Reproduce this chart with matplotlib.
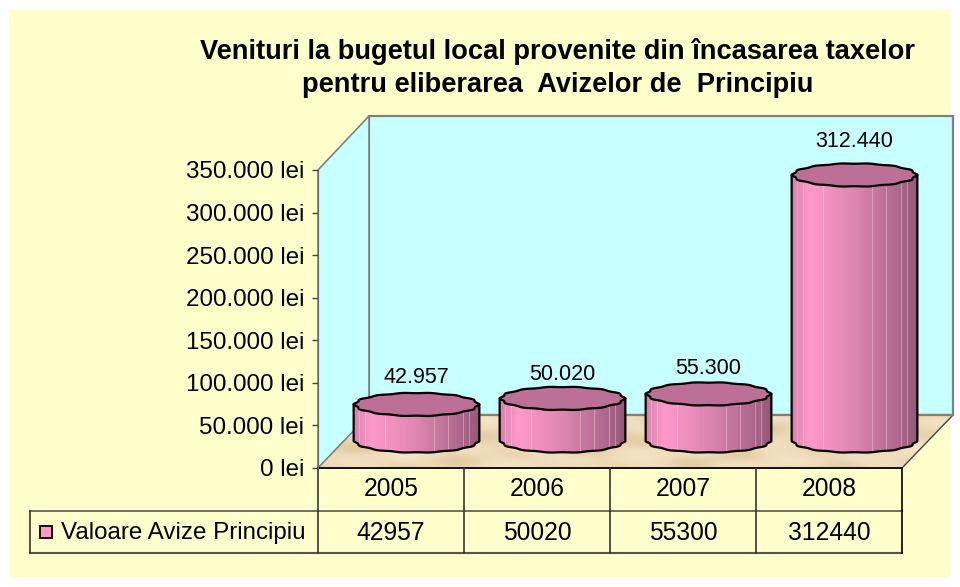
import numpy as np
import matplotlib
matplotlib.use("Agg")
import matplotlib.pyplot as plt
from matplotlib.patches import Polygon, Rectangle

plt.rcParams["font.family"] = ["Liberation Sans", "DejaVu Sans"]

# date
ani = ["2005", "2006", "2007", "2008"]
valori = [42957, 50020, 55300, 312440]
etichete = ["42.957", "50.020", "55.300", "312.440"]
serie = "Valoare Avize Principiu"
titlu = "Venituri la bugetul local provenite din încasarea taxelor\npentru eliberarea  Avizelor de  Principiu"
y_ticks = [0, 50000, 100000, 150000, 200000, 250000, 300000, 350000]
y_labels = ["0 lei", "50.000 lei", "100.000 lei", "150.000 lei", "200.000 lei",
            "250.000 lei", "300.000 lei", "350.000 lei"]

W, H = 960, 587
fig = plt.figure(figsize=(W / 100, H / 100), dpi=100, facecolor="white")

# fundal si "camera" 3D, in pixeli
bg = fig.add_axes([0, 0, 1, 1])
bg.set_xlim(0, W)
bg.set_ylim(H, 0)
bg.axis("off")
bg.add_patch(Rectangle((9, 10), 941, 567, fc="#FFFFCC", ec="none"))
bg.add_patch(Polygon([(369, 116), (953, 116), (953, 415), (369, 415)], fc="#C8FFFF", ec="#808080", lw=1.6))
bg.add_patch(Polygon([(318, 170), (369, 116), (369, 415), (318, 468)], fc="#C8FFFF", ec="#808080", lw=1.2))

# podea cu textura de nisip
podea = Polygon([(318, 468), (369, 415), (953, 415), (902, 468)], fc="none", ec="none")
bg.add_patch(podea)
xx, yy = np.meshgrid(np.linspace(0, 1, 320), np.linspace(0, 1, 30))
pete = np.sin(31 * xx + 5 * yy) + np.sin(53 * xx - 9 * yy + 1) + np.sin(17 * xx + 13 * yy + 2)
nisip = matplotlib.colors.LinearSegmentedColormap.from_list("nisip", ["#E2CBA2", "#EFDCBB", "#F4E3C6"])
im_p = bg.imshow(pete, cmap=nisip, extent=(318, 953, 468, 415), aspect="auto", zorder=1)
im_p.set_clip_path(podea)
bg.plot([902, 953], [468, 415], color="#444444", lw=1, zorder=2)
bg.plot([369, 953], [415, 415], color="#808080", lw=1.6, zorder=2)
bg.plot([318, 369], [468, 415], color="#808080", lw=1, zorder=2)
bg.set_xlim(0, W)
bg.set_ylim(H, 0)

# tabel
x_tab = [318, 464, 610, 756, 902]
bg.plot([318, 902], [468, 468], color="black", lw=1.3, zorder=2)
bg.plot([30, 902], [511, 511], color="#555555", lw=1.2)
bg.plot([30, 902], [553, 553], color="#555555", lw=1.5)
bg.plot([30, 30], [511, 553], color="#333333", lw=1.2)
for i, x in enumerate(x_tab):
    bg.plot([x, x], [468, 553], color="black" if i == 4 else "#333333", lw=1.2)
for i in range(4):
    xc = (x_tab[i] + x_tab[i + 1]) / 2
    bg.text(xc, 489, ani[i], ha="center", va="center", fontsize=17.7)
    bg.text(xc, 533, str(valori[i]), ha="center", va="center", fontsize=17.7)
bg.add_patch(Rectangle((40, 526), 12, 12, fc="#FF99CC", ec="black", lw=1.3))
bg.text(61, 533, serie, ha="left", va="center", fontsize=17.4)
bg.text(558, 68, titlu, ha="center", va="center", fontsize=19.6, fontweight="bold",
        linespacing=1.36)

# axa valorilor, in lei
ax = fig.add_axes([318 / W, 1 - 468 / H, 584 / W, 298 / H])
ax.patch.set_alpha(0)
ax.set_xlim(0, 4)
ax.set_ylim(0, 350000)
ax.set_xticks([])
ax.set_yticks(y_ticks)
ax.set_yticklabels(y_labels, fontsize=17.4)
ax.tick_params(axis="y", length=4, width=1, color="#444444", pad=6)
for s in ["top", "right", "bottom"]:
    ax.spines[s].set_visible(False)
ax.spines["left"].set_color("#666666")

px_x = 4 / 584
px_y = 350000 / 298
dx = 25.5 * px_x
baza = 27 * px_y
rx = 61.5 * px_x
ry = 11.5 * px_y

culori = matplotlib.colors.LinearSegmentedColormap.from_list(
    "cil", [(0, "#D884AC"), (0.14, "#FF99CC"), (0.5, "#DE86B0"), (0.8, "#B56C92"), (1, "#94597A")])
t = np.linspace(0, 2 * np.pi, 241)
grad = np.linspace(0, 1, 200).reshape(1, -1)
dungi = [0.03, 0.08, 0.24, 0.64, 0.76, 0.88, 0.93]
dy_eticheta = [27, 24, 25, 33]

for i, v in enumerate(valori):
    xc = i + 0.5 + dx
    y0 = baza
    y1 = baza + v
    # marginea festonata a cilindrului
    r = 1 + 0.022 * np.cos(14 * t)
    ex = rx * r * np.cos(t)
    ey = ry * r * np.sin(t)
    jos = t <= np.pi
    inf = np.column_stack([xc + ex[jos], y0 - ey[jos]])
    sup = np.column_stack([xc + ex[jos][::-1], y1 + 0 * ey[jos]])
    corp = Polygon(np.vstack([inf, sup]), fc="none", ec="none", clip_on=False)
    ax.add_patch(corp)
    im = ax.imshow(grad, cmap=culori, extent=(xc - rx * 1.02, xc + rx * 1.02, y0 - ry * 1.1, y1),
                   aspect="auto", zorder=2, vmin=0, vmax=1)
    im.set_clip_box(fig.bbox)
    im.set_clip_path(corp)
    for d in dungi:
        xd = xc - rx + 2 * rx * d
        yb = y0 - ry * np.sqrt(max(0, 1 - ((xd - xc) / rx) ** 2))
        ax.plot([xd, xd], [yb, y1], color="#FFD8E8", lw=0.7, alpha=0.4, zorder=3, clip_on=False)
    ax.add_patch(Polygon(np.vstack([inf, sup]), fc="none", ec="black", lw=1.6, zorder=4,
                         joinstyle="round", clip_on=False))
    ax.add_patch(Polygon(np.column_stack([xc + ex, y1 + ey]), fc="#BC6F97", ec="black", lw=1.6,
                         zorder=5, clip_on=False))
    ax.text(xc, y1 + dy_eticheta[i] * px_y, etichete[i], ha="center", va="center", fontsize=15.5, zorder=6)

ax.set_xlim(0, 4)
ax.set_ylim(0, 350000)

fig.savefig("out.png", dpi=100, facecolor="white")
